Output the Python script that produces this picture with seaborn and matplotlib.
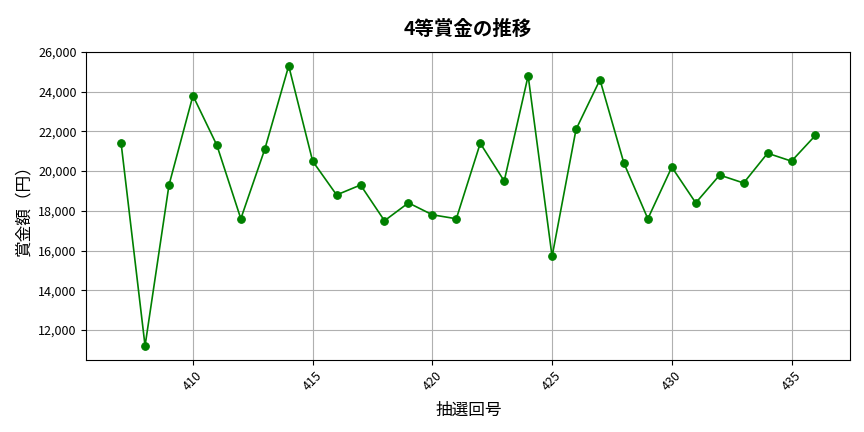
import matplotlib
matplotlib.use('Agg')
import matplotlib.pyplot as plt
import matplotlib.ticker as mticker
import pandas as pd
import seaborn as sns

# 抽選回号と4等賞金
draw_numbers = list(range(407, 437))
prize_values = [21400, 11200, 19300, 23800, 21300, 17600, 21100, 25300, 20500, 18800,
                19300, 17500, 18400, 17800, 17600, 21400, 19500, 24800, 15700, 22100,
                24600, 20400, 17600, 20200, 18400, 19800, 19400, 20900, 20500, 21800]

df = pd.DataFrame({'draw': draw_numbers, 'prize': prize_values})

plt.rcParams['font.family'] = ['Noto Sans CJK JP', 'DejaVu Sans']

fig, ax = plt.subplots(figsize=(8.64, 4.32), dpi=100)
sns.lineplot(data=df, x='draw', y='prize', color='green', marker='o',
             markersize=5.5, markeredgecolor='green', linewidth=1.2, ax=ax)

ax.set_title('4等賞金の推移', fontsize=14, fontweight='bold', pad=12)
ax.set_xlabel('抽選回号', fontsize=12, labelpad=6)
ax.set_ylabel('賞金額（円）', fontsize=12)
ax.yaxis.set_major_formatter(mticker.FuncFormatter(lambda v, p: f'{int(v):,}'))
ax.yaxis.set_major_locator(mticker.MultipleLocator(2000))
ax.xaxis.set_major_locator(mticker.MultipleLocator(5))
ax.tick_params(axis='both', labelsize=9)
plt.xticks(rotation=45)
ax.grid(True, color='#b0b0b0', linewidth=0.8)

plt.subplots_adjust(left=0.1, right=0.984, top=0.88, bottom=0.167)
plt.savefig('out.png', dpi=100)
